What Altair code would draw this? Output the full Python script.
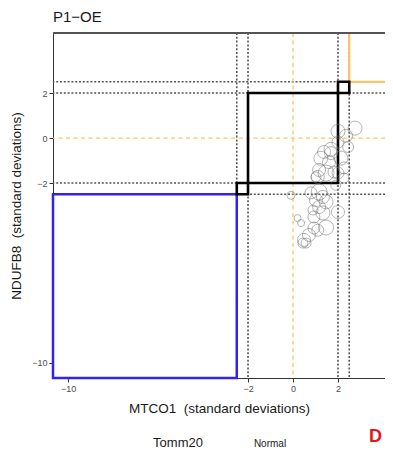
import altair as alt
import pandas as pd

# circle data (MTCO1, NDUFB8 z-scores) and a per-cell size value
pt_x = [2.76, 2.0, 2.36, 2.45, 1.38, 1.69, 1.24, 1.6, 2.13, 2.0, 1.69, 1.16, 1.47, 1.82, 1.1,
        2.27, 2.27, 1.02, 2.0,
        -0.09, 1.16, 0.8, 1.02, 1.47, 1.33, 2.0, 1.33, 0.93, 0.89, 0.36, 0.2, 1.47, 0.93,
        0.71, 0.49, 0.58, 0.44, 1.1, 1.9, 1.16]
pt_y = [0.44, 0.3, 0.1, -0.4, -0.62, -0.67, -0.9, -1.07, -0.89, -0.18, -0.5, -1.42, -1.56, -1.51, -1.73,
        -1.33, -1.78, -1.73, -1.56,
        -2.55, -2.4, -2.44, -2.76, -2.84, -2.62, -3.29, -3.33, -3.51, -3.2, -3.78, -3.56, -3.98, -4.0,
        -4.31, -4.53, -4.67, -4.67, -4.1, -2.1, -3.07]
pt_w = [7, 7, 6.5, 5.5, 6.5, 6.5, 7, 6.5, 7, 6, 7, 6.5, 8, 6, 6.5,
        6, 5, 5, 6,
        4, 8, 6, 6.5, 7, 6.5, 6.5, 7, 6, 5, 3.5, 3.5, 7.5, 6,
        6.5, 6.5, 5, 5, 6, 5, 6.5]

dotted_v = [-2.5, -2, 2, 2.5]
dotted_h = [-2.5, -2, 2, 2.5]
dashed_zero = [0]
sq_x1 = [-2, -2.5, 2]
sq_x2 = [2, -2, 2.5]
sq_y1 = [-2, -2.5, 2]
sq_y2 = [2, -2, 2.5]
x_ticks = [-10, -2, 0, 2]
y_ticks = [-10, -2, 0, 2]
XMIN, XMAX = -10.67, 4.09
YMIN, YMAX = -10.67, 4.67

FONT = "Liberation Sans"
W, H = 332, 345
xs = alt.Scale(domain=[XMIN, XMAX], nice=False, zero=False)
ys = alt.Scale(domain=[YMIN, YMAX], nice=False, zero=False)

pts = pd.DataFrame({"x": pt_x, "y": pt_y, "w": pt_w})
dv = pd.DataFrame({"v": dotted_v})
dh = pd.DataFrame({"h": dotted_h})
dz = pd.DataFrame({"z": dashed_zero})
sq = pd.DataFrame({"x1": sq_x1, "x2": sq_x2, "y1": sq_y1, "y2": sq_y2})

base_axes = alt.Chart(pts).mark_point(opacity=0).encode(
    x=alt.X("x:Q", scale=xs, axis=alt.Axis(values=x_ticks, title="MTCO1\u00a0 (standard deviations)",
                                           grid=False, domainColor="#333333", tickColor="#333333",
                                           labelColor="#4d4d4d", labelFontSize=9, tickSize=4,
                                           titleFontSize=13.5, titleFontWeight="normal", titleColor="#1a1a1a",
                                           titlePadding=8, labelFont=FONT, titleFont=FONT)),
    y=alt.Y("y:Q", scale=ys, axis=alt.Axis(values=y_ticks, title="NDUFB8\u00a0 (standard deviations)",
                                           grid=False, domainColor="#333333", tickColor="#333333",
                                           labelColor="#4d4d4d", labelFontSize=9, tickSize=4,
                                           titleFontSize=13.5, titleFontWeight="normal", titleColor="#1a1a1a",
                                           titlePadding=8, labelFont=FONT, titleFont=FONT)),
)

vdot = alt.Chart(dv).mark_rule(color="#555555", strokeWidth=1.6, strokeDash=[2, 1.8]).encode(
    x=alt.X("v:Q", scale=xs))
hdot = alt.Chart(dh).mark_rule(color="#555555", strokeWidth=1.6, strokeDash=[2, 1.8]).encode(
    y=alt.Y("h:Q", scale=ys))
vz = alt.Chart(dz).mark_rule(color="#FFC266", strokeWidth=1.3, strokeDash=[4, 3.5]).encode(
    x=alt.X("z:Q", scale=xs))
hz = alt.Chart(dz).mark_rule(color="#FFC266", strokeWidth=1.3, strokeDash=[4, 3.5]).encode(
    y=alt.Y("z:Q", scale=ys))

orange = alt.Chart(pd.DataFrame({"a": [2.5], "b": [6.0]})).mark_rect(
    fill=None, stroke="#FFC266", strokeWidth=2.2, clip=True).encode(
    x=alt.X("a:Q", scale=xs), x2="b:Q", y=alt.Y("a:Q", scale=ys), y2="b:Q")
blue = alt.Chart(pd.DataFrame({"a": [XMIN], "ax": [-2.5], "ay": [YMIN], "b": [-2.5]})).mark_rect(
    fill=None, stroke="#3321EE", strokeWidth=2.5).encode(
    x=alt.X("a:Q", scale=xs), x2="ax:Q", y=alt.Y("ay:Q", scale=ys), y2="b:Q")
squares = alt.Chart(sq).mark_rect(fill=None, stroke="black", strokeWidth=2.6).encode(
    x=alt.X("x1:Q", scale=xs), x2="x2:Q", y=alt.Y("y1:Q", scale=ys), y2="y2:Q")

circles = alt.Chart(pts).mark_point(shape="circle", filled=False, color="#777777",
                                    strokeWidth=1, opacity=0.55).encode(
    x=alt.X("x:Q", scale=xs), y=alt.Y("y:Q", scale=ys),
    size=alt.Size("w:Q", scale=alt.Scale(type="pow", exponent=2, domain=[3.5, 8],
                                         range=[49, 256]), legend=None))

topline = alt.Chart(pts).mark_rule(color="#555555", strokeWidth=1).encode(
    x=alt.value(0), x2=alt.value(W), y=alt.value(0))

txt = pd.DataFrame({"t": ["x"]})
title = alt.Chart(txt).mark_text(text="P1\u2212OE", align="left", baseline="middle", fontSize=15,
                                 font=FONT, color="#1a1a1a").encode(x=alt.value(0), y=alt.value(-16))
tomm = alt.Chart(txt).mark_text(text="Tomm20", align="center", baseline="middle", fontSize=13,
                                font=FONT, color="#1a1a1a").encode(x=alt.value(125), y=alt.value(410))
normal = alt.Chart(txt).mark_text(text="Normal", align="center", baseline="middle", fontSize=10,
                                  font=FONT, color="#1a1a1a").encode(x=alt.value(217), y=alt.value(411))
dlab = alt.Chart(txt).mark_text(text="D", align="left", baseline="middle", fontSize=18,
                                fontWeight="bold", font=FONT, color="#E8141A").encode(
    x=alt.value(316), y=alt.value(404))

chart = alt.layer(base_axes, vdot, hdot, vz, hz, orange, blue, squares, circles, topline,
                  title, tomm, normal, dlab).properties(
    width=W, height=H,
    autosize=alt.AutoSizeParams(type="none"),
    padding={"left": 45, "top": 25, "right": 0, "bottom": 73},
).configure_view(stroke=None)

chart.save("out.html", embed_options={"renderer": "svg", "actions": False})
